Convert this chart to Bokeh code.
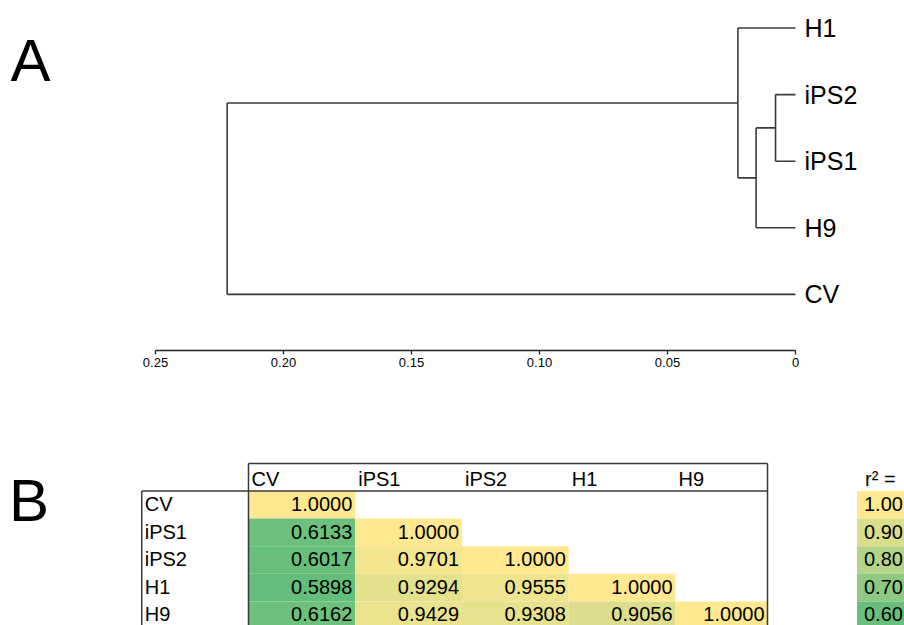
import numpy as np
from bokeh.plotting import figure
from bokeh.models import (Range1d, LinearAxis, FixedTicker, CustomJSTickFormatter,
                          ColumnDataSource, LinearColorMapper, Label)
from bokeh.layouts import column
from bokeh.embed import file_html
from bokeh.resources import INLINE
from bokeh.core.properties import value
from bokeh.transform import transform

# ---------------- data ----------------
LEAF_ORDER = ["H1", "iPS2", "iPS1", "H9", "CV"]
MERGE_NAMES = ["n1", "n2", "n3", "n4"]
MERGE_LEFT = ["iPS2", "n1", "H1", "n3"]
MERGE_RIGHT = ["iPS1", "H9", "n2", "CV"]
MERGE_HEIGHTS = [0.0078, 0.0154, 0.0225, 0.2220]
AXIS_TICKS = [0.0, 0.05, 0.10, 0.15, 0.20, 0.25]

SAMPLES = ["CV", "iPS1", "iPS2", "H1", "H9"]
CORR_CV = [1.0000, 0.6133, 0.6017, 0.5898, 0.6162]
CORR_IPS1 = [None, 1.0000, 0.9701, 0.9294, 0.9429]
CORR_IPS2 = [None, None, 1.0000, 0.9555, 0.9308]
CORR_H1 = [None, None, None, 1.0000, 0.9056]
CORR_H9 = [None, None, None, None, 1.0000]
LEGEND_VALUES = [1.00, 0.90, 0.80, 0.70, 0.60]
LEGEND_TITLE = "r\u00b2 ="

# ---------------- layout constants (pixels) ----------------
ORIGIN = 0                 # page offset of the layout
W = 904
TOTAL_H = 625
F1_FRAME_H = 350
F1_BOTTOM = 40
F2_H = TOTAL_H - (F1_FRAME_H + F1_BOTTOM)
LINE_COLOR = "#3a3a3a"
FONT_NAME = "Liberation Sans"
FONT = value(FONT_NAME)
TEXT_V = 0.47              # vertical text position inside a table row

# figure 1 mapping: page px -> data
PX_PER_DIST = 2560.0
X_ZERO_PX = 795.0          # page x of distance 0
LEAF0_PX = 27.5            # page y of first leaf
LEAF_STEP = 66.6
def d1x(px):
    return (X_ZERO_PX - px) / PX_PER_DIST
def d1y(py):
    return (py - LEAF0_PX) / LEAF_STEP

p1 = figure(width=W, height=F1_FRAME_H + F1_BOTTOM,
            x_range=Range1d(d1x(ORIGIN), d1x(ORIGIN + W)),
            y_range=Range1d(d1y(ORIGIN + F1_FRAME_H), d1y(ORIGIN)),
            x_axis_type=None, y_axis_type=None,
            toolbar_location=None, output_backend="svg",
            min_border_left=0, min_border_right=0, min_border_top=0,
            min_border_bottom=F1_BOTTOM)
p1.outline_line_color = None
p1.xgrid.visible = False
p1.ygrid.visible = False

# build dendrogram segments
pos = {name: (0.0, float(i)) for i, name in enumerate(LEAF_ORDER)}
x0, y0, x1, y1 = [], [], [], []
for name, a, b, h in zip(MERGE_NAMES, MERGE_LEFT, MERGE_RIGHT, MERGE_HEIGHTS):
    (xa, ya), (xb, yb) = pos[a], pos[b]
    x0 += [xa, xb, h]; y0 += [ya, yb, ya]
    x1 += [h, h, h];   y1 += [ya, yb, yb]
    pos[name] = (h, (ya + yb) / 2.0)
p1.segment(x0=x0, y0=y0, x1=x1, y1=y1, line_color=LINE_COLOR, line_width=1.6)

leaf_src = ColumnDataSource(dict(x=[pos[n][0] for n in LEAF_ORDER],
                                 y=[pos[n][1] for n in LEAF_ORDER],
                                 t=LEAF_ORDER))
p1.text(x="x", y="y", text="t", source=leaf_src, x_offset=9,
        text_baseline="middle", text_align="left", text_font=FONT,
        text_font_size="25px", text_color="black")

axis = LinearAxis(ticker=FixedTicker(ticks=AXIS_TICKS),
                  formatter=CustomJSTickFormatter(code="return tick == 0 ? '0' : tick.toFixed(2);"),
                  bounds=(min(AXIS_TICKS), max(AXIS_TICKS)))
axis.major_tick_in = 0
axis.major_tick_out = 4
axis.minor_tick_in = 0
axis.minor_tick_out = 0
axis.axis_line_color = "#222222"
axis.axis_line_width = 1.3
axis.major_tick_line_color = "#222222"
axis.major_tick_line_width = 1.3
axis.major_label_text_font = FONT_NAME
axis.major_label_text_font_size = "13px"
axis.major_label_text_color = "black"
axis.major_label_standoff = 3
p1.add_layout(axis, "below")

p1.add_layout(Label(x=d1x(10), y=d1y(60), text="A", text_font=FONT_NAME,
                    text_font_size="60px", text_color="black",
                    text_baseline="alphabetic", text_align="left"))

# ---------------- figure 2: correlation table ----------------
COL0_PX = 248.0
COL_W = 106.75
ROW0_PX = 490.5
ROW_H = 27.6
F2_TOP = ORIGIN + F1_FRAME_H + F1_BOTTOM
def d2x(px):
    return (px - COL0_PX) / COL_W
def d2y(py):
    return (py - ROW0_PX) / ROW_H

TABLE_RIGHT = d2x(767)
LEGEND_LEFT = d2x(856.5)

p2 = figure(width=W, height=F2_H,
            x_range=Range1d(d2x(ORIGIN), d2x(ORIGIN + W)),
            y_range=Range1d(d2y(F2_TOP + F2_H), d2y(F2_TOP)),
            x_axis_type=None, y_axis_type=None,
            toolbar_location=None, output_backend="svg",
            min_border_left=0, min_border_right=0, min_border_top=0,
            min_border_bottom=0)
p2.outline_line_color = None
p2.xgrid.visible = False
p2.ygrid.visible = False

cols = [CORR_CV, CORR_IPS1, CORR_IPS2, CORR_H1, CORR_H9]
n = len(SAMPLES)
left, right, top, bottom, vals, labels = [], [], [], [], [], []
for ci, colvals in enumerate(cols):
    for ri, v in enumerate(colvals):
        if v is None:
            continue
        left.append(ci); right.append(min(ci + 1, TABLE_RIGHT))
        top.append(ri); bottom.append(ri + 1)
        vals.append(v); labels.append(f"{v:.4f}")
cell_src = ColumnDataSource(dict(left=left, right=right, top=top, bottom=bottom,
                                 v=vals, lab=labels,
                                 ty=[t + TEXT_V for t in top]))

GREEN = np.array([0x63, 0xBE, 0x7B], dtype=float)
YELLOW = np.array([0xFF, 0xE8, 0x90], dtype=float)
palette = []
for t in np.linspace(0, 1, 256):
    c = GREEN + (YELLOW - GREEN) * t
    palette.append("#%02x%02x%02x" % tuple(int(round(k)) for k in c))
mapper = LinearColorMapper(palette=palette, low=min(vals), high=max(vals))

p2.quad(left="left", right="right", top="top", bottom="bottom", source=cell_src,
        fill_color=transform("v", mapper), line_color=None)
p2.text(x="right", y="ty", text="lab", source=cell_src, x_offset=-3,
        text_align="right", text_baseline="middle", text_font=FONT,
        text_font_size="20px", text_color="black")

# row labels and header labels
idx = list(range(n))
p2.text(x=[-1] * n, y=[i + TEXT_V for i in idx], text=SAMPLES, x_offset=3,
        text_align="left", text_baseline="middle", text_font=FONT,
        text_font_size="20px", text_color="black")
p2.text(x=idx, y=[-0.45] * n, text=SAMPLES, x_offset=3,
        text_align="left", text_baseline="middle", text_font=FONT,
        text_font_size="20px", text_color="black")

# table borders
BOTTOM_OUT = n + 1
p2.segment(x0=[0, 0, TABLE_RIGHT, -1, -1],
           y0=[-1, -1, -1, 0, 0],
           x1=[TABLE_RIGHT, 0, TABLE_RIGHT, TABLE_RIGHT, -1],
           y1=[-1, BOTTOM_OUT, BOTTOM_OUT, 0, BOTTOM_OUT],
           line_color=LINE_COLOR, line_width=1.5)

# colour legend
leg_src = ColumnDataSource(dict(left=[LEGEND_LEFT] * len(LEGEND_VALUES),
                                right=[LEGEND_LEFT + 1] * len(LEGEND_VALUES),
                                top=list(range(len(LEGEND_VALUES))),
                                bottom=[i + 1 for i in range(len(LEGEND_VALUES))],
                                v=LEGEND_VALUES,
                                lab=[f"{v:.2f}" for v in LEGEND_VALUES],
                                ty=[i + TEXT_V for i in range(len(LEGEND_VALUES))]))
p2.quad(left="left", right="right", top="top", bottom="bottom", source=leg_src,
        fill_color=transform("v", mapper), line_color=None)
p2.text(x="left", y="ty", text="lab", source=leg_src, x_offset=7,
        text_align="left", text_baseline="middle", text_font=FONT,
        text_font_size="20px", text_color="black")
p2.text(x=[LEGEND_LEFT], y=[-0.45], text=[LEGEND_TITLE], x_offset=8,
        text_align="left", text_baseline="middle", text_font=FONT,
        text_font_size="20px", text_color="black")

p2.add_layout(Label(x=d2x(8.5), y=d2y(500), text="B", text_font=FONT_NAME,
                    text_font_size="60px", text_color="black",
                    text_baseline="alphabetic", text_align="left"))

layout = column(p1, p2, spacing=0)
open("out.html", "w").write(file_html(layout, INLINE))
